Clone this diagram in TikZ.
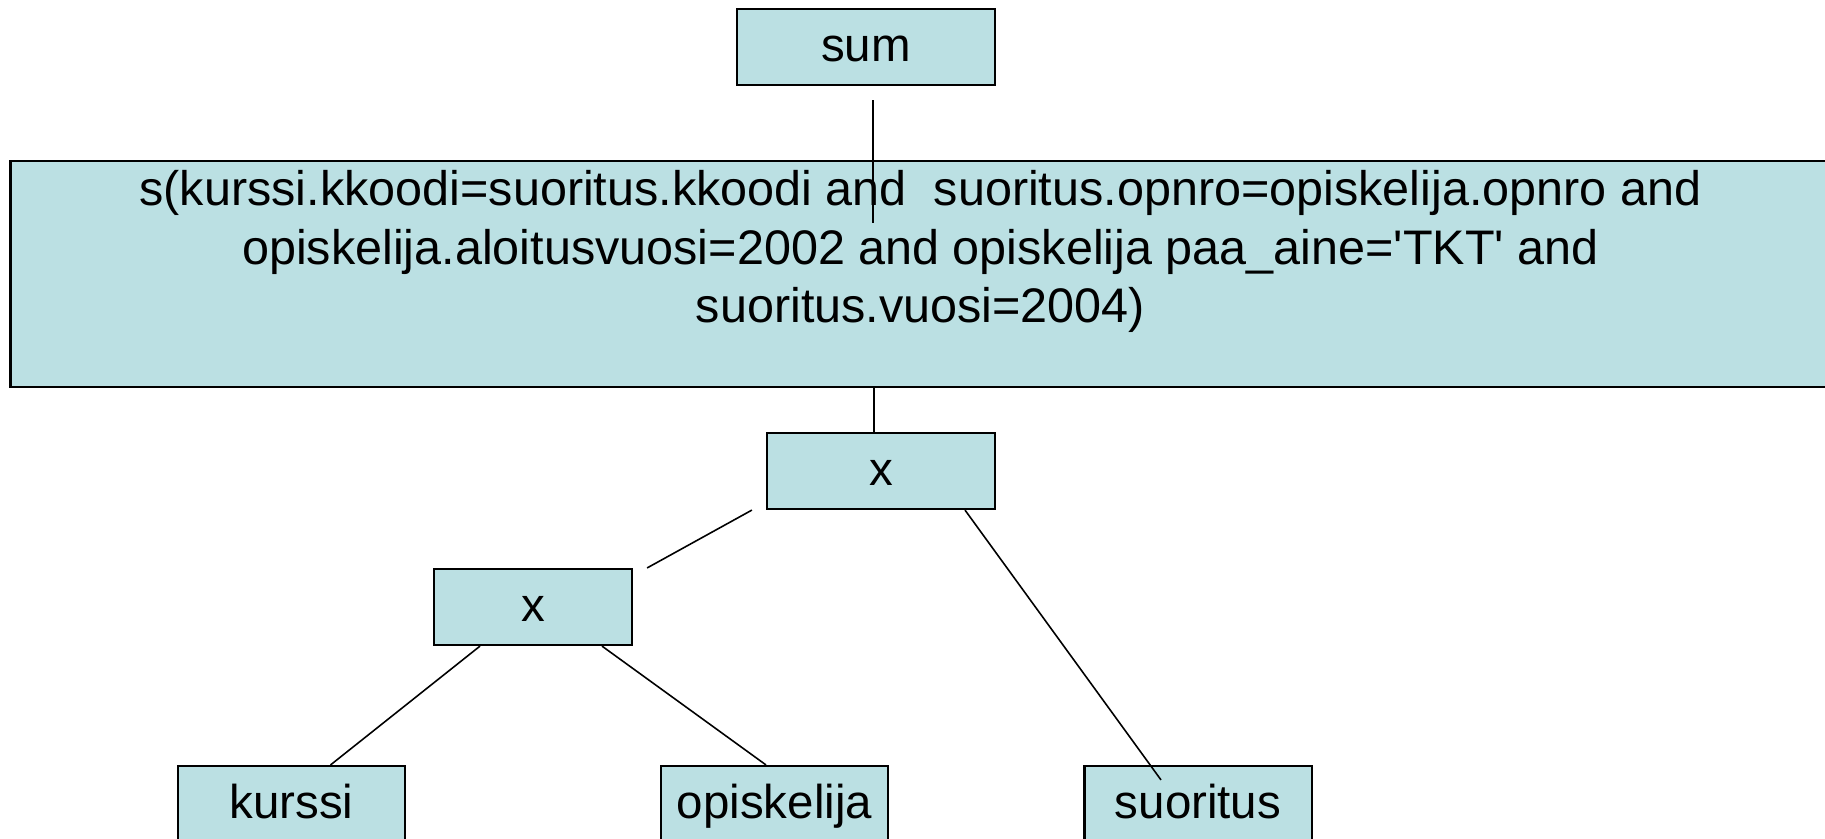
\documentclass[tikz,border=0pt]{standalone}
\usepackage{fontspec}
\setmainfont{Liberation Sans}
\usetikzlibrary{calc}
\definecolor{boxblue}{HTML}{BBE0E3}

\begin{document}
\begin{tikzpicture}[x=0.01cm,y=-0.01cm,line width=0.45pt,
                    rel node/.style={rectangle,draw,line width=0.6pt,fill=boxblue,inner sep=0pt,
                      minimum height=0.76cm,text height=1.05em,text depth=0.2em,
                      font=\fontsize{13.5}{16.2}\selectfont}]
  \useasboundingbox (0,0) rectangle (1825,838);
  \node[rel node,minimum width=2.58cm] (sum) at (866,47) {sum};
  \node[rel node,minimum width=18.19cm,minimum height=2.26cm,align=center,
        text height=1.61cm,text depth=0.65cm,font=\fontsize{13.8}{16.5}\selectfont] (sel) at (920.5,274)
    {s(kurssi.kkoodi=suoritus.kkoodi and~ suoritus.opnro=opiskelija.opnro and\\
     opiskelija.aloitusvuosi=2002 and opiskelija paa\_aine=\textquotesingle TKT\textquotesingle{} and\\
     suoritus.vuosi=2004)};
  \node[rel node,minimum width=2.28cm] (x1) at (881,471) {x};
  \node[rel node,minimum width=1.98cm] (x2) at (533,607) {x};
  \node[rel node,minimum width=2.27cm] (kurssi) at (291.5,804) {kurssi};
  \node[rel node,minimum width=2.27cm] (opiskelija) at (774.5,804) {opiskelija};
  \node[rel node,minimum width=2.27cm] (suoritus) at (1198,804) {suoritus};
  \path
    ($(sum.south)+(7,14)$) edge ++(0,123)
    ([xshift=-0.07cm]x1.north) edge ([xshift=-0.07cm]x1.north |- sel.south)
    ($(x2.north east)+(14,0)$) edge ($(x1.south west)+(-14,0)$)
    ($(x1.south)+(84,0)$) edge ($(suoritus.north)+(-37,15)$)
    ($(x2.south)+(-53,0)$) edge ($(kurssi.north)+(39,0)$)
    ($(x2.south)+(69,0)$) edge ($(opiskelija.north)+(-8.5,0)$);
\end{tikzpicture}
\end{document}
